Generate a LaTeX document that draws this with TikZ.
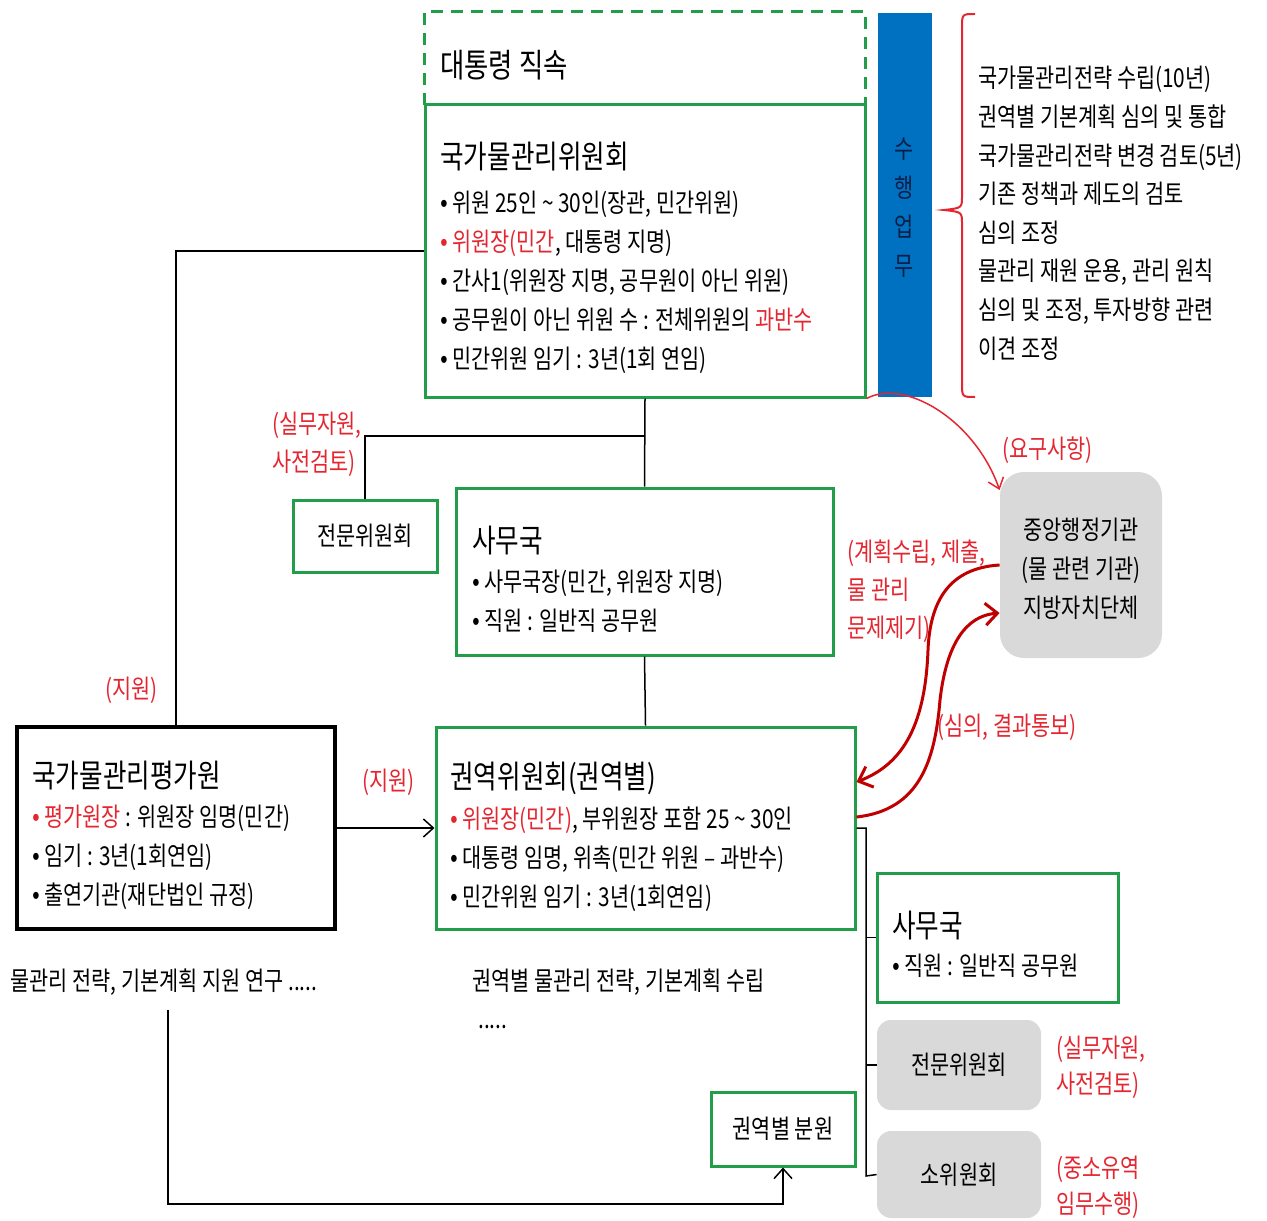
\documentclass[tikz,border=0pt]{standalone}
\usepackage{fontspec}
\setmainfont{Noto Sans CJK KR}[FakeStretch=0.8]
\newfontfamily\latinf{Liberation Sans}[FakeStretch=0.8]
\usetikzlibrary{arrows.meta,fit}
\definecolor{bxgreen}{RGB}{34,158,74}
\definecolor{barblue}{RGB}{0,112,192}
\definecolor{tred}{RGB}{228,38,48}
\definecolor{dred}{RGB}{192,0,0}
\definecolor{boxgray}{RGB}{217,217,217}
\definecolor{navytxt}{RGB}{10,30,70}
\newcommand\mylines[1]{\begin{tabular}[t]{@{}l@{}}#1\end{tabular}}
\newcommand\mylinesc[1]{\begin{tabular}[t]{@{}c@{}}#1\end{tabular}}
\newcommand\bl{{\latinf •}}
\begin{document}
\begin{tikzpicture}[x=0.5pt,y=-0.5pt,
  gbox/.style={draw=bxgreen, line width=1.5pt, inner sep=0pt},
  kbox/.style={draw=black, line width=2pt, inner sep=0pt},
  grbox/.style={fill=boxgray, rounded corners=7pt, inner sep=0pt},
  txt/.style={inner sep=0pt, anchor=base west},
  body/.style={font=\fontsize{13}{19.5}\selectfont},
  ttl/.style={font=\fontsize{16}{19}\selectfont},
  lab/.style={text=tred, font=\fontsize{13}{19}\selectfont},
  conn/.style={draw=black, line width=0.75pt},
  rarr/.style={draw=dred, line width=1.5pt, -{Straight Barb[length=6pt,width=11pt,line width=1.5pt]}},
]
\useasboundingbox (0,0) rectangle (1267,1220);

% ---- top: presidential ----
\node[inner sep=0pt, fit={(425,12)(865,105)}] (pres) {};
\draw[draw=bxgreen, line width=1.5pt, dash pattern=on 6pt off 4pt]
  (pres.south west) -- (pres.north west) -- (pres.north east) -- (pres.south east);
\node[txt, font=\fontsize{16.5}{19}\selectfont] (prest) at (440,78) {대통령 직속};

\node[gbox, fit={(425,105)(865,397)}] (com) {};
\node[txt, ttl] (comt) at (440,168) {국가물관리위원회};
\node[txt, body] (comb) at (440,212) {\mylines{%
\bl{} 위원 25인 \textasciitilde{} 30인(장관, 민간위원)\\
\textcolor{tred}{\bl{} 위원장(민간}, 대통령 지명)\\
\bl{} 간사1(위원장 지명, 공무원이 아닌 위원)\\
\bl{} 공무원이 아닌 위원 수 : 전체위원의 \textcolor{tred}{과반수}\\
\bl{} 민간위원 임기 : 3년(1회 연임)}};

% ---- blue bar ----
\node[fill=barblue, inner sep=0pt, fit={(878,13)(932,397)}] (bar) {};
\node[inner sep=0pt, anchor=base, body, text=navytxt] (bart) at (904,158) {\mylinesc{수\\행\\업\\무}};

% ---- brace and duties ----
\draw[draw=tred, line width=1pt] (975,14) .. controls (962,14) .. (962,28) -- (962,196)
  .. controls (962,208) .. (944,210) .. controls (962,212) .. (962,224) -- (962,383)
  .. controls (962,397) .. (975,397);
\node[txt, font=\fontsize{13}{19.3}\selectfont] (duty) at (978,88) {\mylines{%
국가물관리전략 수립(10년)\\
권역별 기본계획 심의 및 통합\\
국가물관리전략 변경 검토(5년)\\
기존 정책과 제도의 검토\\
심의 조정\\
물관리 재원 운용, 관리 원칙\\
심의 및 조정, 투자방향 관련\\
이견 조정}};

% ---- expert committee & secretariat ----
\node[gbox, fit={(293,500)(437,572)}] (exp1) {};
\node[body, inner sep=0pt] (exp1t) at (exp1.center) {전문위원회};
\node[txt, lab] (lab1) at (272,433) {\mylines{(실무자원,\\사전검토)}};

\node[gbox, fit={(456,488)(833,655)}] (sec1) {};
\node[txt, ttl] (sec1t) at (472,552) {사무국};
\node[txt, body] (sec1b) at (472,591) {\mylines{%
\bl{} 사무국장(민간, 위원장 지명)\\
\bl{} 직원 : 일반직 공무원}};

% ---- evaluation institute ----
\node[kbox, fit={(17,727)(335,929)}] (eval) {};
\node[txt, ttl] (evalt) at (32,787) {국가물관리평가원};
\node[txt, body] (evalb) at (32,826) {\mylines{%
\textcolor{tred}{\bl{} 평가원장} : 위원장 임명(민간)\\
\bl{} 임기 : 3년(1회연임)\\
\bl{} 출연기관(재단법인 규정)}};
\node[txt, lab] (lab2) at (105,698) {(지원)};
\node[txt, lab] (lab3) at (362,790) {(지원)};
\node[txt, body] (evalr) at (10,990) {물관리 전략, 기본계획 지원 연구 .....};

% ---- regional committee ----
\node[gbox, fit={(436,727)(855,929)}] (reg) {};
\node[txt, ttl] (regt) at (450,788) {권역위원회(권역별)};
\node[txt, body] (regb) at (450,828) {\mylines{%
\textcolor{tred}{\bl{} 위원장(민간)}, 부위원장 포함 25 \textasciitilde{} 30인\\
\bl{} 대통령 임명, 위촉(민간 위원 – 과반수)\\
\bl{} 민간위원 임기 : 3년(1회연임)}};
\node[txt, body] (regr) at (472,990) {권역별 물관리 전략, 기본계획 수립};
\node[txt, body] (regr2) at (478,1028) {.....};

\node[gbox, fit={(711,1092)(855,1166)}] (branch) {};
\node[body, inner sep=0pt] (brancht) at (branch.center) {권역별 분원};

% ---- regional sub-units ----
\node[gbox, fit={(877,873)(1118,1002)}] (sec2) {};
\node[txt, ttl] (sec2t) at (892,937) {사무국};
\node[txt, body] (sec2b) at (892,975) {\bl{} 직원 : 일반직 공무원};

\node[grbox, fit={(877,1020)(1041,1110)}] (exp2) {};
\node[body, inner sep=0pt] (exp2t) at (exp2.center) {전문위원회};
\node[txt, lab, font=\fontsize{13}{18}\selectfont] (lab4) at (1056,1057) {\mylines{(실무자원,\\사전검토)}};

\node[grbox, fit={(877,1131)(1041,1218)}] (soc) {};
\node[body, inner sep=0pt] (soct) at (soc.center) {소위원회};
\node[txt, lab, font=\fontsize{13}{18}\selectfont] (lab5) at (1056,1177) {\mylines{(중소유역\\임무수행)}};

% ---- central agencies ----
\node[fill=boxgray, rounded corners=12pt, inner sep=0pt, fit={(1000,472)(1162,658)}] (cen) {};
\node[inner sep=0pt, anchor=base, body] (cent) at (1081,539) {\mylinesc{중앙행정기관\\(물 관련 기관)\\지방자치단체}};
\node[txt, lab] (lab6) at (1002,458) {(요구사항)};
\node[txt, lab] (lab7) at (847,561) {\mylines{(계획수립, 제출,\\물 관리\\문제제기)}};
\node[txt, lab] (lab8) at (937,735) {(심의, 결과통보)};

% ---- connectors ----
\coordinate (br1) at (645,436);
\coordinate (lb) at (168,1010);
\coordinate (lc) at (168,1204);
\coordinate (trb) at (866,1176);
\draw[conn] (com.west) -| (eval.north);
\draw[conn] (com.south) -- (sec1.north);
\draw[conn] (br1) -| (exp1.north);
\draw[conn] (sec1.south) -- (reg.north);
\draw[conn, -{Straight Barb[length=5pt,width=9pt]}] (eval.east) -- (reg.west);
\draw[conn, -{Straight Barb[length=5pt,width=9pt]}] (lb) -- (lc) -| (branch.south);
\draw[conn] (reg.east) -| (trb) -- (soc.west);
\draw[conn] (sec2.west) -- (sec2.west -| trb);
\draw[conn] (exp2.west) -- (exp2.west -| trb);

\draw[draw=tred, line width=0.75pt, -{Straight Barb[length=5pt,width=8pt]}]
  (com.south east) .. controls (905,378) and (975,420) .. (cen.west |- 0,490);
\draw[rarr] (cen.west) .. controls (950,568) and (930,600) .. (928,650)
  .. controls (925,730) and (900,765) .. (reg.east |- 0,782);
\draw[rarr] (reg.east |- 0,817) .. controls (920,810) and (935,760) .. (940,700)
  .. controls (948,630) and (975,615) .. (cen.west |- 0,613);
\end{tikzpicture}
\end{document}
